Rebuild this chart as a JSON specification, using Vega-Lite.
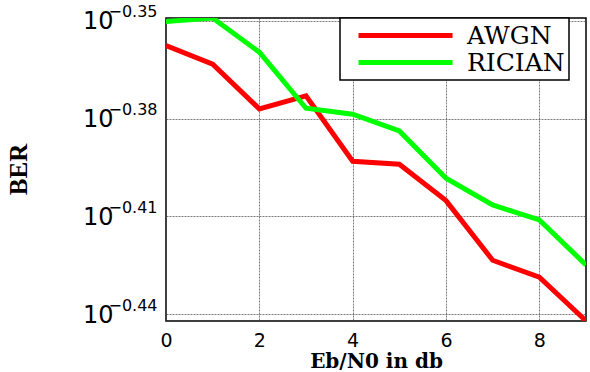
{
  "$schema": "https://vega.github.io/schema/vega-lite/v6.json",
  "width": 420,
  "height": 303,
  "autosize": {"type": "none"},
  "padding": {"left": 166, "top": 18, "right": 4, "bottom": 51},
  "background": "white",
  "config": {
    "view": {"stroke": "black", "strokeWidth": 1.5},
    "axis": {"domain": false, "ticks": false}
  },
  "data": {
    "values": [
      {"ebn0": 0, "ber": 0.43887, "series": "AWGN"},
      {"ebn0": 1, "ber": 0.43315, "series": "AWGN"},
      {"ebn0": 2, "ber": 0.41970, "series": "AWGN"},
      {"ebn0": 3, "ber": 0.42357, "series": "AWGN"},
      {"ebn0": 4, "ber": 0.40449, "series": "AWGN"},
      {"ebn0": 5, "ber": 0.40364, "series": "AWGN"},
      {"ebn0": 6, "ber": 0.39341, "series": "AWGN"},
      {"ebn0": 7, "ber": 0.37720, "series": "AWGN"},
      {"ebn0": 8, "ber": 0.37270, "series": "AWGN"},
      {"ebn0": 9, "ber": 0.36141, "series": "AWGN"},
      {"ebn0": 0, "ber": 0.44637, "series": "RICIAN"},
      {"ebn0": 1, "ber": 0.44751, "series": "RICIAN"},
      {"ebn0": 2, "ber": 0.43684, "series": "RICIAN"},
      {"ebn0": 3, "ber": 0.41990, "series": "RICIAN"},
      {"ebn0": 4, "ber": 0.41813, "series": "RICIAN"},
      {"ebn0": 5, "ber": 0.41324, "series": "RICIAN"},
      {"ebn0": 6, "ber": 0.39967, "series": "RICIAN"},
      {"ebn0": 7, "ber": 0.39221, "series": "RICIAN"},
      {"ebn0": 8, "ber": 0.38808, "series": "RICIAN"},
      {"ebn0": 9, "ber": 0.37595, "series": "RICIAN"}
    ]
  },
  "layer": [
    {
      "mark": {"type": "line", "strokeWidth": 5, "clip": true},
      "encoding": {
        "x": {
          "field": "ebn0",
          "type": "quantitative",
          "scale": {"domain": [0, 9], "nice": false, "zero": false},
          "axis": {
            "values": [0, 2, 4, 6, 8],
            "grid": true,
            "gridColor": "#444444",
            "gridWidth": 0.7,
            "gridDash": [2, 1],
            "labelFlush": false,
            "labelFont": "DejaVu Sans",
            "labelFontSize": 19,
            "labelColor": "black",
            "labelPadding": 10,
            "title": "Eb/N0 in db",
            "titleFont": "DejaVu Serif",
            "titleFontWeight": "bold",
            "titleFontSize": 20,
            "titleColor": "black",
            "titleX": 210,
            "titleY": 46,
            "titleBaseline": "alphabetic"
          }
        },
        "y": {
          "field": "ber",
          "type": "quantitative",
          "scale": {"type": "log", "domain": [0.36137, 0.44751], "nice": false, "zero": false},
          "axis": {
            "values": [0.446684, 0.416869, 0.389045, 0.363078],
            "labelExpr": "format(log(datum.value)/LN10, '.2f')",
            "grid": true,
            "gridColor": "#444444",
            "gridWidth": 0.7,
            "gridDash": [2, 1],
            "labelFont": "DejaVu Sans",
            "labelFontSize": 16,
            "labelColor": "black",
            "labelAlign": "right",
            "labelBaseline": "alphabetic",
            "labelOffset": -4,
            "labelPadding": 9,
            "title": null
          }
        },
        "color": {
          "field": "series",
          "type": "nominal",
          "scale": {"domain": ["AWGN", "RICIAN"], "range": ["#ff0000", "#00ff00"]},
          "legend": {
            "title": null,
            "orient": "none",
            "legendX": 174,
            "legendY": 0,
            "padding": 4,
            "strokeColor": "black",
            "fillColor": "white",
            "symbolType": "M0.09,0H8.64",
            "symbolSize": 484,
            "symbolStrokeWidth": 5,
            "labelOffset": 96,
            "labelFont": "DejaVu Serif",
            "labelFontSize": 25,
            "labelColor": "black",
            "rowPadding": 0,
            "encode": {"legend": {"update": {"strokeWidth": {"value": 1.5}}}}
          }
        }
      }
    },
    {
      "mark": {"type": "point", "opacity": 0},
      "encoding": {
        "x": {"field": "ebn0", "type": "quantitative"},
        "y": {
          "field": "ber",
          "type": "quantitative",
          "axis": {
            "orient": "left",
            "values": [0.446684, 0.416869, 0.389045, 0.363078],
            "labelExpr": "'10'",
            "grid": false,
            "labelFont": "DejaVu Sans",
            "labelFontSize": 24,
            "labelColor": "black",
            "labelAlign": "right",
            "labelBaseline": "alphabetic",
            "labelOffset": 8,
            "labelPadding": 53,
            "title": "BER",
            "titleFont": "Liberation Serif",
            "titleFontWeight": "bold",
            "titleFontSize": 25,
            "titleColor": "black",
            "titleX": -148,
            "titleY": 151,
            "titleAngle": -90,
            "titleAlign": "center",
            "titleBaseline": "middle"
          }
        }
      }
    }
  ],
  "resolve": {"axis": {"y": "independent"}}
}
